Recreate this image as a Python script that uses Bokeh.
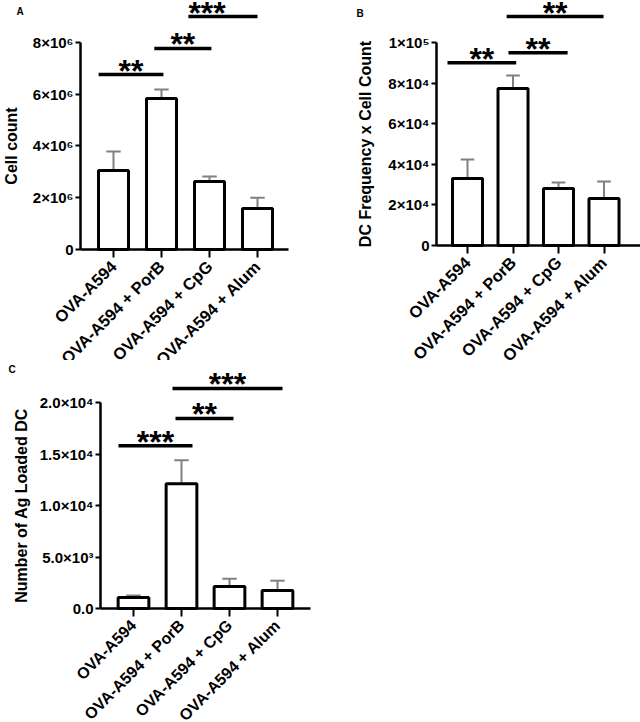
import math
from bokeh.plotting import figure
from bokeh.layouts import column, row
from bokeh.models import FixedTicker, Label
from bokeh.core.properties import value
from bokeh.embed import file_html
from bokeh.resources import INLINE

FONT = "Liberation Sans"

groups = ["OVA-A594", "OVA-A594 + PorB", "OVA-A594 + CpG", "OVA-A594 + Alum"]
xpos = [1, 2, 3, 4]

# Panel A: Cell count
a_mean = [3.05e6, 5.84e6, 2.63e6, 1.58e6]
a_upper = [3.79e6, 6.18e6, 2.82e6, 2.00e6]
a_ticks = [0, 2e6, 4e6, 6e6, 8e6]
a_tick_labels = ["0", "2×10⁶", "4×10⁶", "6×10⁶", "8×10⁶"]
a_sig_start = [0.69, 1.85, 2.56]
a_sig_end = [2.04, 3.04, 4.0]
a_sig_y = [6.76e6, 7.77e6, 9.0e6]
a_sig_text = ["**", "**", "***"]

# Panel B: DC Frequency x Cell Count
b_mean = [3.30e4, 7.73e4, 2.81e4, 2.32e4]
b_upper = [4.24e4, 8.37e4, 3.10e4, 3.15e4]
b_ticks = [0, 2e4, 4e4, 6e4, 8e4, 1e5]
b_tick_labels = ["0", "2×10⁴", "4×10⁴", "6×10⁴", "8×10⁴", "1×10⁵"]
b_sig_start = [0.56, 1.90, 1.86]
b_sig_end = [2.07, 3.20, 3.99]
b_sig_y = [0.90e5, 0.95e5, 1.128e5]
b_sig_text = ["**", "**", "**"]

# Panel C: Number of Ag Loaded DC
c_mean = [1.07e3, 1.21e4, 2.14e3, 1.75e3]
c_upper = [1.26e3, 1.44e4, 2.90e3, 2.70e3]
c_ticks = [0, 5e3, 1e4, 1.5e4, 2e4]
c_tick_labels = ["0.0", "5.0×10³", "1.0×10⁴", "1.5×10⁴", "2.0×10⁴"]
c_sig_start = [0.6875, 1.875, 1.8125]
c_sig_end = [2.229, 3.083, 4.104]
c_sig_y = [1.58e4, 1.845e4, 2.136e4]
c_sig_text = ["***", "**", "***"]


def make_panel(letter, ytitle, means, uppers, ticks, tick_labels,
               sig_start, sig_end, sig_y, sig_text,
               x_range, y_range, yaxis_x, xaxis_end, bar_w,
               ytitle_x, letter_x, letter_y, star_align=None, W=320, H=360,
               cat_font="16.5px"):
    p = figure(output_backend="svg", toolbar_location=None,
               frame_width=W, frame_height=H,
               x_range=x_range, y_range=y_range,
               min_border=0, min_border_left=0, min_border_right=0,
               min_border_top=0, min_border_bottom=0,
               background_fill_color="white", border_fill_color="white")
    p.outline_line_color = None
    p.grid.visible = False

    # error bars
    p.segment(x0=xpos, y0=means, x1=xpos, y1=uppers, line_color="#808080", line_width=2)
    p.segment(x0=[x - 0.15 for x in xpos], y0=uppers, x1=[x + 0.15 for x in xpos], y1=uppers,
              line_color="#808080", line_width=2)
    # bars
    p.vbar(x=xpos, top=means, bottom=0, width=bar_w, fill_color="white",
           line_color="black", line_width=3)

    # significance brackets
    p.segment(x0=sig_start, y0=sig_y, x1=sig_end, y1=sig_y, line_color="black", line_width=3.5)
    mids = [(s + e) / 2 for s, e in zip(sig_start, sig_end)]
    aligns = star_align if star_align else ["center"] * len(mids)
    for m, s, y, t, al in zip(mids, sig_start, sig_y, sig_text, aligns):
        xx = s if al == "left" else m
        p.text(x=[xx], y=[y], text=[t], text_align=al, text_baseline="alphabetic",
               y_offset=-4, text_font=value(FONT), text_font_style="bold",
               text_font_size="32px", text_color="black")

    # x axis, pinned at y = 0
    xa = p.xaxis[0]
    xa.fixed_location = 0
    xa.bounds = (yaxis_x, xaxis_end)
    xa.ticker = FixedTicker(ticks=xpos)
    xa.major_label_overrides = {x: g for x, g in zip(xpos, groups)}
    xa.major_label_orientation = math.pi / 4
    xa.major_label_text_font = FONT
    xa.major_label_text_font_style = "bold"
    xa.major_label_text_font_size = cat_font
    xa.major_label_text_color = "black"
    xa.major_label_standoff = 6
    xa.major_tick_out = 8
    xa.major_tick_in = 0
    xa.minor_tick_out = 0
    xa.minor_tick_in = 0
    xa.axis_line_width = 2.5
    xa.major_tick_line_width = 2
    xa.axis_line_color = "black"

    # y axis, pinned at the left edge of the first bar group
    ya = p.yaxis[0]
    ya.fixed_location = yaxis_x
    ya.ticker = FixedTicker(ticks=ticks)
    ya.major_label_overrides = {t: l for t, l in zip(ticks, tick_labels)}
    ya.bounds = (0, ticks[-1])
    ya.major_label_text_font = FONT
    ya.major_label_text_font_style = "bold"
    ya.major_label_text_font_size = "15px"
    ya.major_label_text_color = "black"
    ya.major_tick_out = 5
    ya.major_tick_in = 0
    ya.minor_tick_out = 0
    ya.minor_tick_in = 0
    ya.major_label_standoff = 2
    ya.axis_line_width = 2.5
    ya.major_tick_line_width = 2
    ya.axis_line_color = "black"

    p.add_layout(Label(x=ytitle_x, y=ticks[-1] / 2, x_units="screen", y_units="data",
                       text=ytitle, angle=math.pi / 2, text_align="center",
                       text_baseline="middle", text_font=FONT, text_font_style="bold",
                       text_font_size="16px", text_color="black"))
    p.add_layout(Label(x=letter_x, y=letter_y, x_units="screen", y_units="screen",
                       text=letter, text_align="left", text_baseline="top",
                       text_font=FONT, text_font_style="bold", text_font_size="10px",
                       text_color="black"))
    return p


pA = make_panel("A", "Cell count", a_mean, a_upper, a_ticks, a_tick_labels,
                a_sig_start, a_sig_end, a_sig_y, a_sig_text,
                x_range=(-1.354, 5.3125), y_range=(-4.29e6, 9.623e6),
                yaxis_x=0.3125, xaxis_end=4.646, bar_w=0.625,
                ytitle_x=11, letter_x=16, letter_y=355,
                star_align=["center", "center", "left"])
pB = make_panel("B", "DC Frequency x Cell Count", b_mean, b_upper, b_ticks, b_tick_labels,
                b_sig_start, b_sig_end, b_sig_y, b_sig_text,
                x_range=(-2.231, 4.802), y_range=(-0.5665e5, 1.2069e5),
                yaxis_x=0.3187, xaxis_end=4.802, bar_w=0.66,
                ytitle_x=45, letter_x=36, letter_y=353)
pC = make_panel("C", "Number of Ag Loaded DC", c_mean, c_upper, c_ticks, c_tick_labels,
                c_sig_start, c_sig_end, c_sig_y, c_sig_text,
                x_range=(-1.771, 4.896), y_range=(-1.1068e4, 2.4078e4),
                yaxis_x=0.3125, xaxis_end=4.6875, bar_w=0.64,
                ytitle_x=21, letter_x=8, letter_y=359, H=362, cat_font="16px")

layout = column(row(pA, pB), pC)
open("out.html", "w").write(file_html(layout, INLINE))
